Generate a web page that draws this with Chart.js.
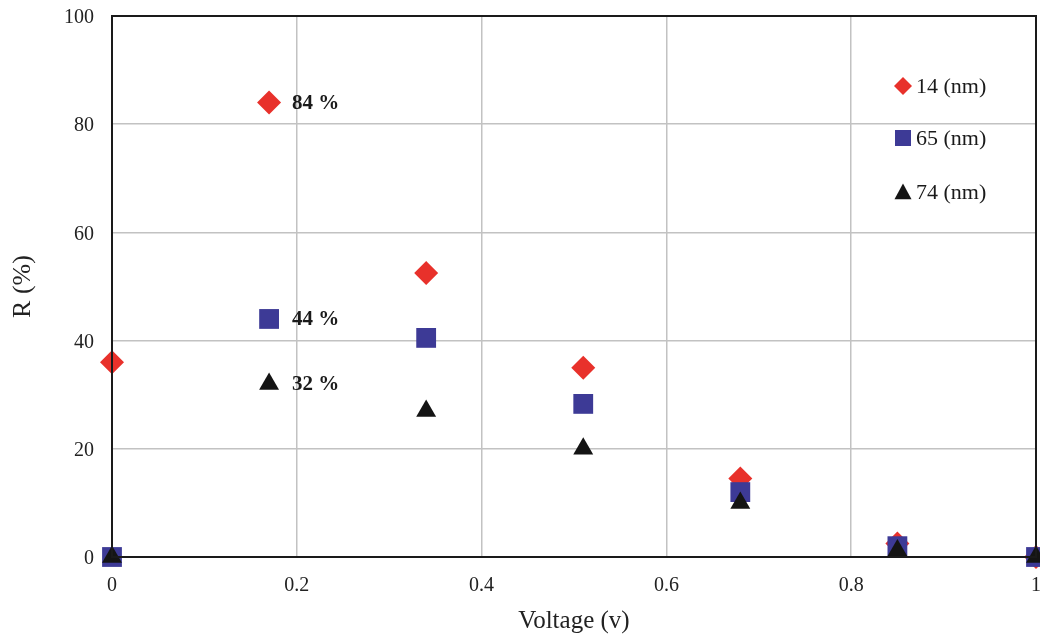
<!DOCTYPE html>
<html>
<head>
<meta charset="utf-8">
<script src="https://cdn.jsdelivr.net/npm/chart.js@4/dist/chart.umd.min.js"></script>
<style>
  html, body { margin: 0; padding: 0; background: #fff; }
  #wrap { width: 1040px; height: 639px; }
</style>
</head>
<body>
<div id="wrap"><canvas id="c" width="1040" height="639"></canvas></div>
<script>
// Applied voltage (V)
const voltage = [0, 0.17, 0.34, 0.51, 0.68, 0.85, 1.0];
// Response R (%) for each film thickness
const r14 = [36, 84, 52.5, 35, 14.5, 2.5, 0];
const r65 = [0, 44, 40.5, 28.3, 12, 2, 0];
const r74 = [0, 32, 27, 20, 10, 1.2, 0];
const seriesNames = ['14 (nm)', '65 (nm)', '74 (nm)'];
// Peak values annotated next to the points at 0.17 V
const peakIndex = 1;

const xTicks = [0, 0.2, 0.4, 0.6, 0.8, 1];
const yTicks = [0, 20, 40, 60, 80, 100];

const RED = '#e8312b';
const BLUE = '#3d3a96';
const BLACK = '#141414';
const FONT = '"Liberation Serif", "Times New Roman", serif';

function pts(values) { return voltage.map((v, i) => ({ x: v, y: values[i] })); }

function drawMarker(ctx, style, x, y, s, color) {
  ctx.save();
  ctx.fillStyle = color;
  ctx.beginPath();
  if (style === 'diamond') {
    ctx.moveTo(x, y - s); ctx.lineTo(x + s, y); ctx.lineTo(x, y + s); ctx.lineTo(x - s, y);
  } else if (style === 'square') {
    ctx.rect(x - s, y - s, 2 * s, 2 * s);
  } else {
    ctx.moveTo(x, y - s); ctx.lineTo(x + s, y + s * 0.85); ctx.lineTo(x - s, y + s * 0.85);
  }
  ctx.closePath();
  ctx.fill();
  ctx.restore();
}

// Frame, value labels and the in-plot key
const decor = {
  id: 'decor',
  afterDatasetsDraw(chart) {
    const { ctx, chartArea: a, scales } = chart;
    ctx.save();
    ctx.strokeStyle = '#1a1a1a';
    ctx.lineWidth = 2;
    ctx.strokeRect(a.left, a.top, a.right - a.left, a.bottom - a.top);

    // peak value labels
    ctx.font = 'bold 21px ' + FONT;
    ctx.fillStyle = '#1a1a1a';
    ctx.textAlign = 'left';
    ctx.textBaseline = 'middle';
    [r14, r65, r74].forEach(vals => {
      const v = vals[peakIndex];
      const px = scales.x.getPixelForValue(voltage[peakIndex]) + 23;
      const py = scales.y.getPixelForValue(v) + 1;
      ctx.fillText(v + ' %', px, py);
    });

    // key
    const keyX = a.right - 133;
    const keyY = [a.top + 70, a.top + 122, a.top + 176];
    const styles = [['diamond', RED, 9], ['square', BLUE, 8], ['triangle', BLACK, 8.5]];
    ctx.font = '22px ' + FONT;
    seriesNames.forEach((name, i) => {
      const [st, col, s] = styles[i];
      drawMarker(ctx, st, keyX, keyY[i], s, col);
      ctx.fillStyle = '#1a1a1a';
      ctx.fillText(name, keyX + 13, keyY[i] + 1);
    });
    ctx.restore();
  }
};

new Chart(document.getElementById('c'), {
  type: 'scatter',
  data: {
    datasets: [
      { label: seriesNames[0], data: pts(r14), pointStyle: 'rectRot', pointRadius: 12, pointHoverRadius: 12,
        backgroundColor: RED, borderColor: RED, borderWidth: 0, order: 3 },
      { label: seriesNames[1], data: pts(r65), pointStyle: 'rect', pointRadius: 14, pointHoverRadius: 14,
        backgroundColor: BLUE, borderColor: BLUE, borderWidth: 0, order: 2 },
      { label: seriesNames[2], data: pts(r74), pointStyle: 'triangle', pointRadius: 11.5, pointHoverRadius: 11.5,
        backgroundColor: BLACK, borderColor: BLACK, borderWidth: 0, order: 1 }
    ]
  },
  options: {
    responsive: false,
    animation: false,
    events: [],
    clip: false,
    layout: { autoPadding: false, padding: { top: 16, right: 4, left: 0, bottom: 0 } },
    plugins: { legend: { display: false }, tooltip: { enabled: false } },
    scales: {
      x: {
        type: 'linear', min: 0, max: 1,
        afterBuildTicks(s) { s.ticks = xTicks.map(v => ({ value: v })); },
        afterFit(s) { s.height = 82; s.paddingLeft = 0; s.paddingRight = 0; },
        ticks: { padding: 17, color: '#222', font: { family: FONT, size: 20 },
                 callback: v => String(v), maxRotation: 0, autoSkip: false },
        grid: { color: '#c2c2c2', lineWidth: 1.5, drawTicks: false },
        border: { color: '#1a1a1a', width: 2 },
        title: { display: true, text: 'Voltage (v)', color: '#222',
                 font: { family: FONT, size: 25 }, padding: { top: 0, bottom: 3 } }
      },
      y: {
        type: 'linear', min: 0, max: 100,
        afterBuildTicks(s) { s.ticks = yTicks.map(v => ({ value: v })); },
        afterFit(s) { s.width = 112; s.paddingTop = 0; s.paddingBottom = 0; },
        ticks: { padding: 18, labelOffset: 2, color: '#222', font: { family: FONT, size: 20 } },
        grid: { color: '#c2c2c2', lineWidth: 1.5, drawTicks: false },
        border: { color: '#1a1a1a', width: 2 },
        title: { display: true, text: 'R (%)', color: '#222',
                 font: { family: FONT, size: 26 }, padding: { top: 8, bottom: 0 } }
      }
    }
  },
  plugins: [decor]
});
</script>
</body>
</html>
